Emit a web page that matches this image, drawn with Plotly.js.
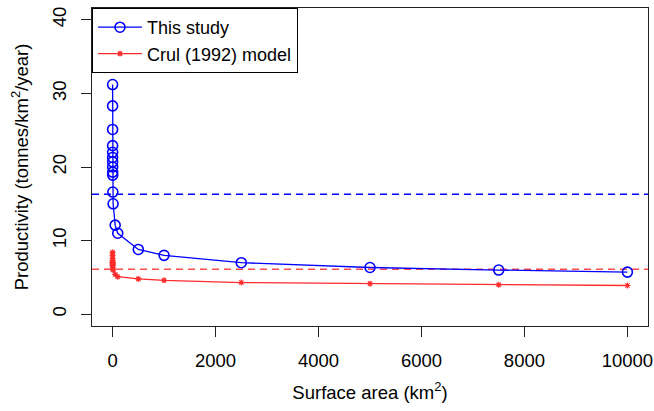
<!DOCTYPE html>
<html>
<head>
<meta charset="utf-8">
<script src="https://cdn.plot.ly/plotly-3.0.1.min.js"></script>
<style>body{margin:0;padding:0;background:#fff;} #chart{width:654px;height:411px;}</style>
</head>
<body>
<div id="chart"></div>
<script>
// Surface area (km^2) — small lakes are all crowded near zero on this scale
const areas = [0.05, 0.1, 0.25, 0.5, 0.75, 1, 1.25, 1.5, 2, 2.5, 5, 10, 50, 100, 500, 1000, 2500, 5000, 7500, 10000];
// Productivity, this study (tonnes/km^2/year)
const thisStudy = [31.2, 28.3, 25.1, 22.9, 22.0, 21.3, 20.7, 20.0, 19.3, 18.9, 16.6, 15.0, 12.1, 11.0, 8.8, 8.0, 7.0, 6.35, 6.0, 5.72];
// Productivity, Crul (1992) model
const crulModel = [8.4, 8.0, 7.6, 7.3, 7.1, 7.0, 6.9, 6.8, 6.7, 6.6, 6.3, 6.0, 5.4, 5.1, 4.8, 4.6, 4.3, 4.15, 4.0, 3.9];
// Mean levels (dashed reference lines)
const meanThisStudy = 16.3;
const meanCrul = 6.1;
const xTicks = [0, 2000, 4000, 6000, 8000, 10000];
const yTicks = [0, 10, 20, 30, 40];
const xRange = [-400, 10400];
const yRange = [-1.6, 41.6];

const FONT = 'Liberation Sans, Arial, sans-serif';
const FS = 18.5;

const traces = [
  {
    x: areas, y: thisStudy, type: 'scatter', mode: 'lines+markers', name: 'This study',
    line: {color: '#0000FF', width: 1.3},
    marker: {symbol: 'circle-open', size: 10, color: '#0000FF', line: {width: 1.6, color: '#0000FF'}}
  },
  {
    x: areas, y: crulModel, type: 'scatter', mode: 'lines+markers', name: 'Crul (1992) model',
    line: {color: '#FF2A2A', width: 1.3},
    marker: {symbol: 'asterisk-open', size: 5, color: '#FF2A2A', line: {width: 1.2, color: '#FF2A2A'}}
  }
];

const layout = {
  width: 654, height: 411,
  margin: {l: 92, r: 6, t: 8, b: 85},
  paper_bgcolor: '#fff', plot_bgcolor: '#fff',
  font: {family: FONT, size: FS, color: '#000'},
  showlegend: true,
  legend: {
    x: 0, y: 1, xanchor: 'left', yanchor: 'top',
    bgcolor: '#fff', bordercolor: '#000', borderwidth: 1,
    font: {family: FONT, size: 18, color: '#000'},
    itemwidth: 44, tracegroupgap: 0
  },
  xaxis: {
    range: xRange, tickmode: 'array', tickvals: xTicks, ticktext: xTicks.map(String),
    showgrid: false, zeroline: false, showline: true, mirror: true, linecolor: '#222', linewidth: 1,
    ticks: 'outside', ticklen: 10, tickcolor: '#222', tickwidth: 1, ticklabelstandoff: 8,
    tickfont: {family: FONT, size: FS, color: '#000'},
    title: {text: 'Surface area (km<sup>2</sup>)', font: {family: FONT, size: FS, color: '#000'}, standoff: 15},
    automargin: false
  },
  yaxis: {
    range: yRange, tickmode: 'array', tickvals: yTicks, ticktext: yTicks.map(String),
    showgrid: false, zeroline: false, showline: true, mirror: true, linecolor: '#222', linewidth: 1,
    ticks: 'outside', ticklen: 10, tickcolor: '#222', tickwidth: 1, tickangle: -90, ticklabelstandoff: 8,
    tickfont: {family: FONT, size: FS, color: '#000'},
    title: {text: 'Productivity (tonnes/km<sup>2</sup>/year)', font: {family: FONT, size: FS, color: '#000'}, standoff: 15},
    automargin: false
  },
  shapes: [
    {type: 'line', xref: 'paper', x0: 0, x1: 1, yref: 'y', y0: meanThisStudy, y1: meanThisStudy,
     line: {color: '#0000FF', width: 1.3, dash: '7px,5px'}, layer: 'below'},
    {type: 'line', xref: 'paper', x0: 0, x1: 1, yref: 'y', y0: meanCrul, y1: meanCrul,
     line: {color: '#FF4A4A', width: 1.5, dash: '7px,5px'}, layer: 'below'}
  ]
};

Plotly.newPlot('chart', traces, layout, {staticPlot: true, displayModeBar: false});
</script>
</body>
</html>
